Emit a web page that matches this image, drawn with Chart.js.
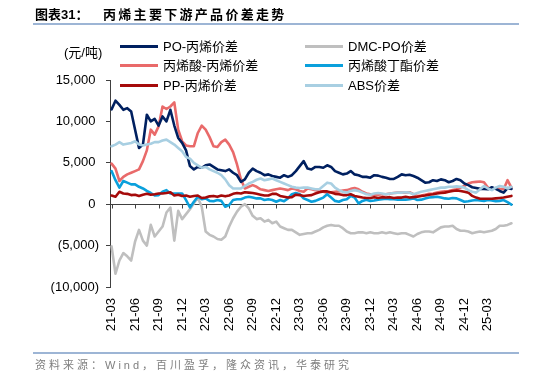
<!DOCTYPE html>
<html><head><meta charset="utf-8">
<script src="https://cdn.jsdelivr.net/npm/chart.js@4/dist/chart.umd.min.js"></script>
<style>
html,body{margin:0;padding:0;background:#fff;}
body{width:534px;height:378px;position:relative;overflow:hidden;font-family:"Liberation Sans","Noto Sans CJK SC",sans-serif;color:#000;}
#wrap{position:absolute;left:0;top:0;width:534px;height:378px;}
.abs{position:absolute;white-space:nowrap;}
.t1{left:35px;top:7px;font-size:13px;line-height:15px;font-weight:bold;}
.t2{left:103px;top:7px;font-size:13px;line-height:15px;font-weight:bold;letter-spacing:2.3px;}
.rule{position:absolute;left:33px;width:486px;height:2px;background:#9DB5D5;}
.unit{left:64px;top:45px;font-size:13px;line-height:15px;}
.lg{font-size:13px;line-height:15px;}
.sw{position:absolute;width:38px;height:3px;}
.src{left:35px;top:358px;font-size:11px;line-height:14px;color:#7f7f7f;letter-spacing:3px;}
</style>
</head><body>
<div id="wrap"><canvas id="c"></canvas></div>
<div class="abs t1">图表31：</div>
<div class="abs t2">丙烯主要下游产品价差走势</div>
<div class="rule" style="top:23px"></div>
<div class="abs unit">(元/吨)</div>
<div id="legend"></div>
<div class="rule" style="top:352px"></div>
<div class="abs src">资料来源：Wind，百川盈孚，隆众资讯，华泰研究</div>
<script>
// x-axis tick labels (one every quarter, starting 21-03)
const tickLabels = ['21-03','21-06','21-09','21-12','22-03','22-06','22-09','22-12','23-03','23-06','23-09','23-12','24-03','24-06','24-09','24-12','25-03'];
// series names
const seriesNames = ['PO-丙烯价差','DMC-PO价差','丙烯酸-丙烯价差','丙烯酸丁酯价差','PP-丙烯价差','ABS价差'];
// values in 元/吨, two readings per month from 21-03 to 25-06
const poPropylene = [
 11450,12500,12000,11400,11600,11200,
 9000,6800,7200,10800,10000,10300,
 9500,10600,10000,11400,9500,8000,
 7400,6500,4600,4200,4500,4400,
 4700,4800,4500,4200,4100,4000,
 4200,3800,3500,2700,3000,3800,
 4300,4000,3800,3500,3600,3400,
 3300,3200,3500,3300,3500,4000,
 4600,5200,4300,4200,4500,4500,
 4400,4700,4500,4000,3800,3600,
 3700,4000,3600,3500,3300,3300,
 3200,3500,3450,3300,3200,3050,
 3050,3300,3600,3500,3550,3400,
 3200,2900,2600,2650,2900,2800,
 3000,2900,2650,2800,3050,2900,
 2500,2300,2050,1950,1850,1850,
 1800,2050,1850,1600,1400,1950,
 1850];
const dmcPo = [
 -5100,-8400,-6800,-5900,-6300,-6800,
 -4500,-3100,-4400,-5000,-2500,-3900,
 -3300,-2700,-1000,-400,-4400,-800,
 -1800,-1200,-600,100,800,-300,
 -3300,-3700,-3900,-4200,-4300,-3900,
 -2700,-1700,-900,-300,0,-500,
 -1400,-1800,-1700,-2100,-1900,-2300,
 -2100,-2700,-2900,-3100,-3100,-3400,
 -3700,-3600,-3500,-3500,-3300,-3100,
 -2800,-2600,-2500,-2600,-2600,-2900,
 -3300,-3500,-3500,-3400,-3400,-3500,
 -3400,-3500,-3500,-3400,-3500,-3400,
 -3500,-3600,-3500,-3500,-3700,-3900,
 -3600,-3400,-3300,-3300,-3400,-3100,
 -2800,-2700,-2700,-2600,-3000,-3200,
 -3200,-3300,-3500,-3400,-3300,-3400,
 -3300,-3200,-3000,-2600,-2600,-2500,
 -2300];
const acrylicAcid = [
 4900,4300,2800,3300,3600,3800,
 4000,4200,5200,6500,9000,8400,
 9400,11800,11500,11800,12300,9000,
 7600,7100,7000,7000,8600,9500,
 9000,8100,7000,6900,7500,7800,
 7200,6300,4800,3000,1900,2100,
 2300,2100,1800,1700,1600,1700,
 1800,1900,1800,1700,1900,1800,
 1600,1500,1900,1800,1700,1600,
 1500,1400,1450,1500,1550,1650,
 1700,1850,1950,1800,1500,1300,
 1200,1100,1150,1200,1200,1300,
 1350,1400,1400,1400,1450,1200,
 1000,1050,1150,1250,1300,1400,
 1500,1550,1600,1700,1800,2000,
 2200,2500,2650,2700,2750,2650,
 2000,1800,1950,1850,1800,2900,
 2000];
const butylAcrylate = [
 4000,2900,2000,2800,2600,2400,
 2400,2100,1900,1600,1350,1050,
 1100,1500,1700,1300,1300,1300,
 1300,500,-400,300,900,600,
 700,400,350,500,400,-300,
 -100,500,600,600,800,900,
 800,700,700,500,600,500,
 300,500,350,700,1200,1350,
 1200,700,500,300,400,600,
 800,1200,800,400,300,500,
 600,1000,800,100,400,550,
 400,450,550,600,650,600,
 600,550,550,550,600,700,
 500,550,700,800,850,900,
 800,700,650,750,700,500,
 300,350,450,500,450,400,
 500,450,350,400,500,250,
 -50];
const ppPropylene = [
 1050,900,1500,1300,1250,1100,
 1150,1000,1150,1250,1150,1200,
 1300,1300,1350,1450,1050,1150,
 1000,1050,900,1000,1050,750,
 800,950,1000,900,1050,950,
 1050,1250,1350,1300,1450,1400,
 1350,1250,1150,1050,1050,1250,
 1250,1000,900,800,850,1150,
 1100,1000,1050,1100,1300,1450,
 1550,1550,1400,1250,1200,1100,
 1100,1200,1000,900,800,750,
 750,850,750,850,800,850,
 750,800,800,900,800,850,
 900,1000,1050,1150,1200,1300,
 1350,1400,1500,1600,1650,1600,
 1500,1400,1000,800,650,650,
 650,650,700,750,800,900,
 1000];
const absSpread = [
 7000,7200,7500,7200,7300,7400,
 7600,7200,7100,7200,7300,7500,
 7500,7700,7800,7500,7200,6800,
 6400,5700,5500,5000,4700,4400,
 4500,4200,4000,3800,3500,3000,
 2300,1900,1900,1900,2200,2500,
 2700,2950,3100,2900,3000,3100,
 2900,2700,2500,2300,2100,2000,
 1950,2000,2000,1900,1800,1800,
 2200,2600,2500,2000,1700,1500,
 1400,1600,1700,1600,1400,1200,
 1150,1300,1350,1300,1200,1300,
 1350,1400,1400,1450,1400,1200,
 1350,1500,1600,1700,1800,1900,
 2000,2000,2100,2100,2150,2100,
 2000,1700,1500,1400,1800,2200,
 1900,1700,2000,2200,2100,1900,
 2100];

const colors = ['#002060','#BFBFBF','#E96A6A','#0AA0DC','#A50A0A','#A8CFE2'];
const drawOrder = [2,5,4,3,1,0];
const seriesValues = [poPropylene, dmcPo, acrylicAcid, butylAcrylate, ppPropylene, absSpread];

// legend (two columns, three rows, row-wise)
const lg = document.getElementById('legend');
const legendRows = [46, 65.7, 85];
const legendCols = [{sw:120, tx:163},{sw:305, tx:348}];
seriesNames.forEach((n,i)=>{
  const r = Math.floor(i/2), c = i%2;
  const sw = document.createElement('div');
  sw.className='sw'; sw.style.left=legendCols[c].sw+'px'; sw.style.top=(legendRows[r]-1.5)+'px'; sw.style.background=colors[i];
  lg.appendChild(sw);
  const t = document.createElement('div');
  t.className='abs lg'; t.style.left=legendCols[c].tx+'px'; t.style.top=(legendRows[r]-7.5)+'px'; t.textContent=n;
  lg.appendChild(t);
});

function fmt(v){ return v.toLocaleString('en-US'); }

const zeroAxis = {
  id:'zeroAxis',
  beforeDatasetsDraw(chart){
    const {ctx, chartArea, scales:{x,y}} = chart;
    const y0 = Math.round(y.getPixelForValue(0)) + 0.5;
    ctx.save(); ctx.strokeStyle='#404040'; ctx.lineWidth=1;
    ctx.beginPath(); ctx.moveTo(chartArea.left, y0); ctx.lineTo(chartArea.right, y0);
    x.ticks.forEach(t=>{ const px=Math.round(x.getPixelForValue(t.value))+0.5; ctx.moveTo(px,y0); ctx.lineTo(px,y0+4); });
    ctx.stroke(); ctx.restore();
  }
};

const datasets = seriesNames.map((n,i)=>({
  label:n,
  data: seriesValues[i].map((v,k)=>({x:k/2, y:v})),
  borderColor: colors[i], backgroundColor: colors[i],
  borderWidth: 2.6, pointRadius: 0, tension: 0, fill:false,
  order: drawOrder[i]
}));

new Chart(document.getElementById('c'), {
  type:'line',
  data:{datasets},
  plugins:[zeroAxis],
  options:{
    responsive:true, maintainAspectRatio:false, animation:false,
    layout:{padding:{left:0,right:21,top:80,bottom:0}},
    plugins:{legend:{display:false}, tooltip:{enabled:false}},
    elements:{line:{borderJoinStyle:'round', borderCapStyle:'round'}},
    scales:{
      x:{type:'linear', min:-0.2, max:51.2,
        border:{display:false}, grid:{display:false, drawTicks:false},
        afterBuildTicks:(s)=>{ s.ticks = tickLabels.map((l,i)=>({value:i*3})); },
        afterFit:(s)=>{ s.height = 91; },
        ticks:{autoSkip:false, maxRotation:90, minRotation:90, padding:11, color:'#000',
          font:{size:13, family:'"Liberation Sans"'},
          callback:(v)=> tickLabels[Math.round(v/3)] }
      },
      y:{min:-10000, max:15000,
        afterFit:(s)=>{ s.width = 110; },
        border:{display:true, color:'#404040', width:1},
        grid:{drawOnChartArea:false, drawTicks:true, tickLength:4, color:'#404040'},
        ticks:{stepSize:5000, padding:7, color:'#000', font:{size:13, family:'"Liberation Sans"'},
          callback:(v)=> v<0 ? '('+fmt(-v)+')' : fmt(v)+' ' }
      }
    }
  }
});
</script>
</body></html>
